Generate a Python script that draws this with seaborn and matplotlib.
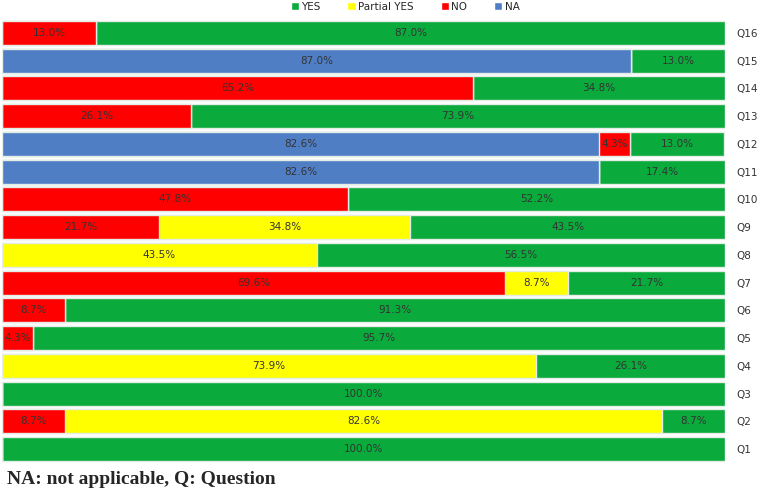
import seaborn as sns
import matplotlib.pyplot as plt
import pandas as pd
import numpy as np
from matplotlib.patches import Patch

# data (percent of studies per answer)
questions = ["Q16", "Q15", "Q14", "Q13", "Q12", "Q11", "Q10", "Q9",
             "Q8", "Q7", "Q6", "Q5", "Q4", "Q3", "Q2", "Q1"]
na_vals      = [0.0, 87.0, 0.0, 0.0, 82.6, 82.6, 0.0, 0.0, 0.0, 0.0, 0.0, 0.0, 0.0, 0.0, 0.0, 0.0]
no_vals      = [13.0, 0.0, 65.2, 26.1, 4.3, 0.0, 47.8, 21.7, 0.0, 69.6, 8.7, 4.3, 0.0, 0.0, 8.7, 0.0]
partial_vals = [0.0, 0.0, 0.0, 0.0, 0.0, 0.0, 0.0, 34.8, 43.5, 8.7, 0.0, 0.0, 73.9, 0.0, 82.6, 0.0]
yes_vals     = [87.0, 13.0, 34.8, 73.9, 13.0, 17.4, 52.2, 43.5, 56.5, 21.7, 91.3, 95.7, 26.1, 100.0, 8.7, 100.0]

answers = ["NA", "NO", "Partial YES", "YES"]   # left to right in each bar
colors = {"YES": "#0AAA3C", "Partial YES": "#FFFF00", "NO": "#FF0000", "NA": "#4F7EC5"}

df = pd.DataFrame({"Question": questions, "NA": na_vals, "NO": no_vals,
                   "Partial YES": partial_vals, "YES": yes_vals})
cum = df[answers].cumsum(axis=1)

sns.set_theme(style="white")
fig = plt.figure(figsize=(7.62, 4.91), dpi=100)
ax = fig.add_axes([2 / 762, 28 / 491, 723 / 762, 444 / 491])

# stacked bars: draw cumulative totals from the longest down
for ans in reversed(answers):
    sns.barplot(data=cum.assign(Question=df["Question"]), x=ans, y="Question",
                order=questions, orient="h", color=colors[ans], width=0.86,
                edgecolor="#E4ECE6", linewidth=1.0, saturation=1, ax=ax)

# segment labels
for i, q in enumerate(questions):
    left = 0.0
    for ans in answers:
        v = df.loc[i, ans]
        if v > 0:
            ax.text(left + v / 2, i, f"{v:.1f}%", ha="center", va="center",
                    fontsize=7.5, color="#333333")
        left += v

ax.set_xlim(0, 100)
ax.set_ylim(15.5, -0.5)
ax.set_xlabel("")
ax.set_ylabel("")
ax.set_xticks([])
ax.yaxis.tick_right()
ax.tick_params(axis="y", length=0, pad=8, labelsize=7.5, labelcolor="#333333")
for s in ax.spines.values():
    s.set_visible(False)

handles = [Patch(facecolor=colors[a], label=a) for a in ["YES", "Partial YES", "NO", "NA"]]
fig.legend(handles=handles, loc="center", bbox_to_anchor=(405 / 762, 1 - 7 / 491),
           ncol=4, frameon=False, fontsize=7.5, handlelength=0.8, handleheight=0.8,
           handletextpad=0.2, columnspacing=2.6)

fig.text(7 / 762, 1 - 480 / 491, "NA: not applicable, Q: Question", ha="left", va="center",
         fontsize=14, fontweight="bold", family="Liberation Serif")

fig.savefig("out.png", dpi=100)
